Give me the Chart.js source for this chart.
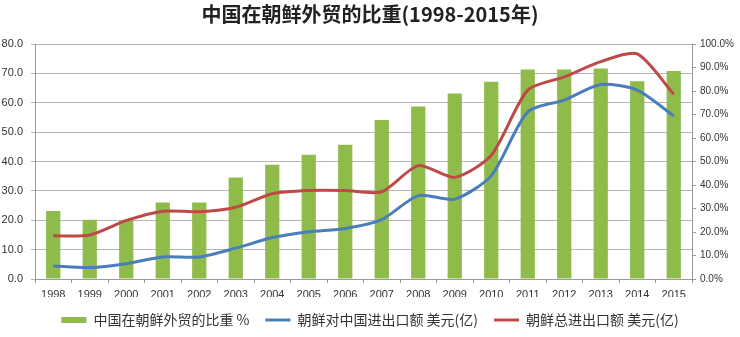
<!DOCTYPE html>
<html>
<head>
<meta charset="utf-8">
<script src="https://cdn.jsdelivr.net/npm/chart.js@4/dist/chart.umd.min.js"></script>
<style>
  html, body { margin: 0; padding: 0; background: #fff; }
  #wrap { width: 740px; height: 337px; }
</style>
</head>
<body>
<div id="wrap"><canvas id="c" width="740" height="337"></canvas></div>
<script>
// 年份
const years = ['1998', '1999', '2000', '2001', '2002', '2003', '2004', '2005', '2006',
  '2007', '2008', '2009', '2010', '2011', '2012', '2013', '2014', '2015'];

// 中国在朝鲜外贸的比重 (%)，右轴
const chinaShare = [28.9, 25.2, 24.8, 32.6, 32.6, 43.2, 48.6, 52.9, 57.1,
  67.7, 73.4, 78.9, 83.9, 89.2, 89.2, 89.6, 84.2, 88.5];

// 朝鲜对中国进出口额 美元(亿)，左轴
const tradeWithChina = [4.4, 3.9, 5.2, 7.5, 7.5, 10.5, 14.1, 16.1, 17.2,
  20.2, 28.4, 27.2, 35.2, 56.9, 60.9, 66.2, 64.3, 55.5];

// 朝鲜总进出口额 美元(亿)，左轴
const totalTrade = [14.7, 15.0, 19.9, 23.1, 22.9, 24.4, 29.0, 30.1, 30.1,
  29.7, 38.6, 34.6, 42.1, 64.3, 68.8, 74.0, 76.6, 62.9];

const seriesNames = ['中国在朝鲜外贸的比重 %', '朝鲜对中国进出口额 美元(亿)', '朝鲜总进出口额 美元(亿)'];

Chart.defaults.font.family = "'Liberation Sans', Arial, sans-serif";
Chart.defaults.color = '#333';

const ctx = document.getElementById('c').getContext('2d');

new Chart(ctx, {
  type: 'bar',
  data: {
    labels: years,
    datasets: [
      {
        label: seriesNames[0],
        data: chinaShare,
        yAxisID: 'y1',
        backgroundColor: '#8fbb4b',
        borderWidth: 0,
        barPercentage: 0.39,
        categoryPercentage: 1,
        order: 3
      },
      {
        type: 'line',
        label: seriesNames[1],
        data: tradeWithChina,
        yAxisID: 'y',
        borderColor: '#4a7ebb',
        backgroundColor: '#4a7ebb',
        borderWidth: 3,
        pointRadius: 0,
        tension: 0.25,
        order: 2
      },
      {
        type: 'line',
        label: seriesNames[2],
        data: totalTrade,
        yAxisID: 'y',
        borderColor: '#bd4a47',
        backgroundColor: '#bd4a47',
        borderWidth: 3,
        pointRadius: 0,
        tension: 0.25,
        order: 1
      }
    ]
  },
  options: {
    responsive: false,
    animation: false,
    layout: { padding: 0 },
    plugins: {
      title: {
        display: true,
        text: '中国在朝鲜外贸的比重(1998-2015年)',
        color: '#222',
        font: { family: "'Noto Sans CJK SC', sans-serif", size: 20, weight: 'bold' },
        padding: { top: 2, bottom: 18 }
      },
      legend: {
        position: 'bottom',
        labels: {
          color: '#333',
          font: { family: "'Noto Sans CJK SC', sans-serif", size: 14 },
          usePointStyle: true,
          pointStyleWidth: 25,
          boxHeight: 6,
          padding: 16,
          sort: (a, b) => a.datasetIndex - b.datasetIndex,
          generateLabels: (chart) => {
            const items = Chart.defaults.plugins.legend.labels.generateLabels(chart);
            items.forEach(it => {
              it.pointStyle = it.datasetIndex === 0 ? 'rect' : 'line';
            });
            return items;
          }
        }
      },
      tooltip: { enabled: false }
    },
    scales: {
      x: {
        grid: { display: true, drawOnChartArea: false, tickLength: 4, color: '#999' },
        border: { color: '#999' },
        ticks: { font: { size: 11 }, color: '#333', padding: 5, maxRotation: 0 },
        afterFit: (s) => { s.height = 18; }
      },
      y: {
        position: 'left',
        min: 0,
        max: 80,
        ticks: { stepSize: 10, font: { size: 11 }, color: '#333', padding: 8,
          callback: (v) => v.toFixed(1) },
        grid: { color: '#b4b4b4', tickLength: 4 },
        border: { color: '#999' },
        afterFit: (s) => { s.width = 35; }
      },
      y1: {
        position: 'right',
        min: 0,
        max: 100,
        ticks: { stepSize: 10, font: { size: 10 }, color: '#333', padding: 4,
          callback: (v) => v.toFixed(1) + '%' },
        grid: { drawOnChartArea: false, tickLength: 4, color: '#999' },
        border: { color: '#999' },
        afterFit: (s) => { s.width = 48; }
      }
    }
  }
});
</script>
</body>
</html>
